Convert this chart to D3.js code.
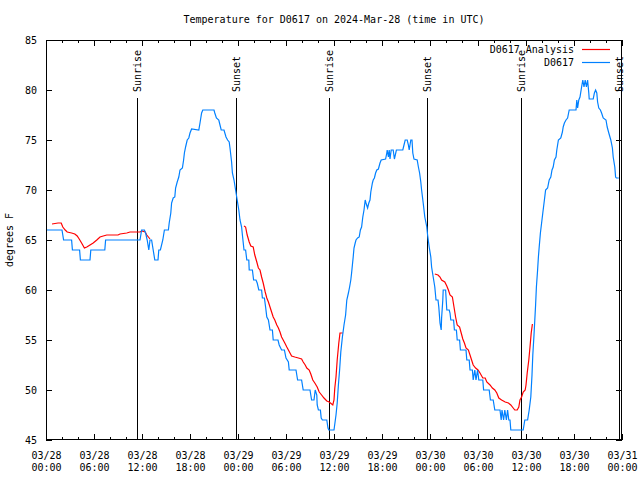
<!DOCTYPE html>
<html><head><meta charset="utf-8">
<script src="https://cdn.jsdelivr.net/npm/d3@7"></script>
<style>body{margin:0;background:#fff}svg{display:block}</style>
</head><body><svg id="c" width="640" height="480"></svg>
<script>
// ---------------- data ----------------
const chartTitle = "Temperature for D0617 on 2024-Mar-28 (time in UTC)";
const yAxisLabel = "degrees F";
const seriesNames = ["D0617 Analysis", "D0617"];
const seriesColors = ["#ff0000", "#0080ff"];
const startDate = "2024-03-28T00:00:00Z";
const yTickValues = [45, 50, 55, 60, 65, 70, 75, 80, 85];

// observations: hours after start, temperature (F)
const obsHours = [0,2.0,2.2,3.2,3.3,4.2,4.3,5.5,5.6,7.35,7.45,11.75,11.95,12.3,12.45,12.65,12.85,13.0,13.2,13.4,13.6,14.0,14.1,14.3,14.6,14.8,15.3,15.4,15.6,15.7,15.9,16.1,16.2,16.4,16.6,16.75,17.05,17.2,17.3,17.45,17.65,17.85,18.0,18.2,19.1,19.25,19.45,19.6,21.0,21.1,21.3,21.6,21.75,21.9,22.25,22.5,22.7,22.9,23.0,23.2,23.3,23.5,23.7,23.9,24.1,24.25,24.45,24.55,24.75,24.95,25.1,25.35,25.4,25.8,25.95,26.25,26.4,26.6,26.95,27.05,27.3,27.45,27.6,27.8,28.0,28.3,28.4,29.0,29.15,29.45,29.8,30.0,30.3,30.4,31.25,31.45,31.95,32.15,33.0,33.2,33.5,33.65,33.85,33.9,34.05,34.3,34.4,34.55,35.1,35.25,35.35,36.0,36.25,36.4,36.55,36.7,36.85,37.05,37.25,37.45,37.6,37.8,37.95,38.1,38.2,38.3,38.4,38.5,38.65,38.75,38.95,39.15,39.3,39.45,39.6,39.75,39.9,40.0,40.2,40.35,40.5,40.6,40.8,40.9,41.05,41.2,41.35,41.55,41.75,41.9,42.45,42.6,42.65,42.8,42.9,43.0,43.15,43.4,43.55,43.8,44.6,44.75,44.9,45.15,45.3,45.4,45.6,45.75,45.85,46.0,46.4,46.55,46.7,46.85,46.95,47.15,47.35,47.6,47.7,47.9,48.1,48.2,48.4,48.6,48.75,49.0,49.1,49.25,49.4,49.45,49.6,49.65,49.95,50.1,50.4,50.5,50.6,50.95,51.05,51.3,51.4,51.7,51.8,52.5,52.6,52.9,53.0,53.3,53.4,53.6,53.75,53.95,54.1,54.6,54.7,55.4,55.55,55.9,56.1,56.75,56.9,57.0,57.2,57.35,57.55,57.7,57.85,58.0,58.1,59.65,59.85,60.2,60.4,60.6,60.75,60.85,61.0,61.1,61.2,61.3,61.45,61.55,61.65,61.8,61.95,62.1,62.3,62.45,62.7,62.9,63.1,63.25,63.4,63.55,63.75,63.85,64.05,64.35,64.55,64.65,64.8,65.0,65.2,65.4,66.25,66.35,66.45,66.6,66.75,66.95,67.1,67.25,67.4,67.55,67.7,67.85,67.9,68.4,68.55,68.7,68.85,68.95,69.1,69.3,69.45,69.65,70.0,70.15,70.35,70.6,70.8,70.9,71.1,71.2,71.3,71.6];
const obsTemp = [66,66,65,65,64,64,63,63,64,64,65,65,66,66,65.7,65,64,65,65,64,63,63,64,64,65,66,66,66.7,67.7,68.7,69.2,69.3,70.2,70.8,71.3,72,72.2,73,73.7,74.3,75,75.2,75.7,76.1,76,76.7,77.7,78,78,77.7,77.2,77,76.5,76,76,75.3,75,74.8,74.2,72.8,71.7,71,70,69,68,67,66.3,65.5,64,64,63,63,62,62,61,61,60.7,60,60,59.2,59.2,58.3,57.3,57,56,56,55,55,54.5,54,54,53.2,52.8,52,52,51,51,50,50,49,49,50,49.5,48.5,48,48,47.2,47,47,46.2,46,46,47.5,48.7,50.5,52,53.8,55.3,56.5,57.5,59,59.7,60.3,61,61.7,62.5,63.3,64.2,64.7,65,65.2,65.3,66,66.3,67.3,68,69,68.7,68.2,68.7,69,69.8,70.7,71,71.2,71.7,72,72.1,72.7,73,73.1,73.7,74,73.3,74,73.1,74,74,73.1,74,74,74.5,75,75,74.5,74,75,75,73.7,73.1,73,72.3,71.7,70.8,70,68.7,67.3,66.3,65.5,64.3,63.3,62.3,61.3,60.3,59,59,58.3,56.7,56,57.2,59,60,60,58,58,57.7,57,57,56,56,55,55,54,54,53,53,52,52,51,52,51,52,51,51,50,50,49,49,48,48,47,48,47,48,47,48,47,47,46,46,47,47,48,49.3,51.5,53.5,55.5,57,58.5,60.3,62,63.3,64.3,65.7,66.7,67.7,69,70,70.2,71,71.3,72,72.3,73,73.3,74,75,75.2,75.8,76.3,76.7,77,77.2,78,78,79,78.2,79,79.3,80.3,81,80.3,81,80.3,81,79.7,79.1,79.1,79.7,80,79.7,78.8,78.2,78,77.7,77.2,77,76.3,75.7,75,74.2,73.3,72.3,71.3,71.2,71.2];

// analysis: hours after start, temperature (F); null = no analysis
const anaHours = [0.75,1.5,1.9,2.1,2.4,2.65,3.2,3.6,3.9,4.15,4.45,4.8,5.1,5.5,5.9,6.35,6.75,7.15,7.6,9.0,9.25,10.1,10.5,11.75,12.0,12.4,12.6,12.8,13.0,18,24.75,24.95,25.15,25.4,25.6,25.9,26.1,26.35,26.55,26.75,26.95,27.15,27.4,27.6,27.8,28.0,28.2,28.4,28.6,28.85,29.05,29.25,29.45,29.65,29.85,30.1,30.3,30.5,30.7,31.1,31.55,31.95,32.15,32.4,32.6,32.9,33.1,33.35,33.6,33.9,34.15,34.45,34.75,35.1,35.4,35.85,36.0,36.1,36.25,36.4,36.6,36.75,37.1,42,48.6,49.0,49.25,49.45,49.85,50.1,50.3,50.5,50.8,51.0,51.2,51.4,51.7,51.9,52.1,52.3,52.5,52.8,53.0,53.2,53.4,53.7,54.0,54.25,54.6,54.9,55.1,55.5,55.8,56.1,56.35,56.6,56.95,57.4,57.8,58.1,58.4,58.6,58.9,59.1,59.25,59.45,59.65,59.9,60.0,60.15,60.35,60.5,60.65,60.8];
const anaTemp = [66.6,66.7,66.7,66.3,66,65.8,65.7,65.6,65.4,65.1,64.7,64.2,64.3,64.5,64.7,65,65.3,65.4,65.5,65.5,65.6,65.7,65.8,65.8,65.9,65.8,65.5,65.3,65.1,null,66.4,66.3,65.5,64.8,64.4,64.3,63.5,62.8,62.2,62,61.3,60.7,59.8,59.2,58.8,58.3,57.8,57.3,57,56.5,56.2,55.8,55.3,55,54.7,54.3,54,53.7,53.4,53.3,53.2,53.1,52.8,52.5,52.2,52,51.6,51,50.7,50.3,49.8,49.5,49.2,48.9,48.8,48.5,49,50.2,51.3,53,54.7,55.7,55.7,null,61.6,61.5,61.3,61,60.8,60.4,60,59.5,59.3,58.3,57.3,56.5,56.3,55.7,55.1,54.7,54.2,54,53.5,53,52.5,52.2,52,51.7,51.2,51.2,50.8,50.5,50.2,50,49.7,49.2,49,48.8,48.7,48.5,48.2,48,48,48.3,49,49.3,49.8,50,50.5,51.7,53,54.3,55.7,56.6];

const sunLabels = ["Sunrise", "Sunset", "Sunrise", "Sunset", "Sunrise", "Sunset"];
const sunTimes = ["2024-03-28T11:25Z", "2024-03-28T23:43Z", "2024-03-29T11:25Z", "2024-03-29T23:41Z", "2024-03-30T11:20Z", "2024-03-30T23:37Z"];

// ---------------- drawing ----------------
const FONT = "'DejaVu Sans Mono', 'Liberation Mono', monospace";
const svg = d3.select("#c");
const t0 = new Date(startDate);
const hToDate = h => new Date(t0.getTime() + h * 3600e3);
const L = 46, R = 622, T = 40, B = 440;

const x = d3.scaleUtc().domain([t0, hToDate(72)]).range([L, R]);
const y = d3.scaleLinear().domain([45, 85]).range([B, T]);

svg.append("rect").attr("width", 640).attr("height", 480).attr("fill", "#fff");

// title
svg.append("text").attr("x", (L + R) / 2).attr("y", 23).attr("text-anchor", "middle")
  .attr("font-family", FONT).attr("font-size", 10).text(chartTitle);

// y label
svg.append("text").attr("transform", `translate(13,${(T + B) / 2}) rotate(-90)`)
  .attr("text-anchor", "middle").attr("font-family", FONT).attr("font-size", 10).text(yAxisLabel);

function styleAxis(g) {
  g.attr("font-family", FONT).attr("font-size", 10);
  g.select(".domain").remove();
  g.selectAll("line").attr("stroke", "#000").attr("shape-rendering", "crispEdges");
  g.selectAll("text").attr("fill", "#000");
}

// minor x ticks (2h), bottom & top
svg.append("g").attr("transform", `translate(0,${B})`)
  .call(d3.axisBottom(x).ticks(d3.utcHour.every(2)).tickSize(-3).tickFormat(""))
  .call(styleAxis);
svg.append("g").attr("transform", `translate(0,${T})`)
  .call(d3.axisTop(x).ticks(d3.utcHour.every(2)).tickSize(-3).tickFormat(""))
  .call(styleAxis);

// major x ticks (6h)
const fmtDay = d3.utcFormat("%m/%d"), fmtHour = d3.utcFormat("%H:%M");
const xb = svg.append("g").attr("transform", `translate(0,${B})`)
  .call(d3.axisBottom(x).ticks(d3.utcHour.every(6)).tickSize(-6).tickPadding(0))
  .call(styleAxis);
xb.selectAll(".tick text").each(function(d) {
  const t = d3.select(this).text(null).attr("dy", null).attr("y", null);
  t.append("tspan").attr("x", 0).attr("y", 18.5).text(fmtDay(d));
  t.append("tspan").attr("x", 0).attr("y", 31).text(fmtHour(d));
});
svg.append("g").attr("transform", `translate(0,${T})`)
  .call(d3.axisTop(x).ticks(d3.utcHour.every(6)).tickSize(-6).tickFormat(""))
  .call(styleAxis);

// y ticks
svg.append("g").attr("transform", `translate(${L},0)`)
  .call(d3.axisLeft(y).tickValues(yTickValues).tickSize(-6).tickPadding(9))
  .call(styleAxis);
svg.append("g").attr("transform", `translate(${R},0)`)
  .call(d3.axisRight(y).tickValues(yTickValues).tickSize(-6).tickFormat(""))
  .call(styleAxis);

// sunrise / sunset markers
sunTimes.forEach((s, i) => {
  const sx = Math.round(x(new Date(s))) + 0.5;
  svg.append("line").attr("x1", sx).attr("x2", sx).attr("y1", 98).attr("y2", B)
    .attr("stroke", "#000").attr("shape-rendering", "crispEdges");
  svg.append("text").attr("transform", `translate(${sx + 3.5},92) rotate(-90)`)
    .attr("font-family", FONT).attr("font-size", 10).text(sunLabels[i]);
});

// data lines
const anaData = anaHours.map((h, i) => ({ d: hToDate(h), v: anaTemp[i] }));
const obsData = obsHours.map((h, i) => ({ d: hToDate(h), v: obsTemp[i] }));
const line = d3.line().defined(p => p.v != null).x(p => x(p.d)).y(p => y(p.v));

svg.append("path").datum(anaData).attr("d", line).attr("fill", "none")
  .attr("stroke", seriesColors[0]).attr("stroke-width", 1.2);
svg.append("path").datum(obsData).attr("d", line).attr("fill", "none")
  .attr("stroke", seriesColors[1]).attr("stroke-width", 1.2);

// frame
svg.append("rect").attr("x", L + 0.5).attr("y", T + 0.5).attr("width", R - L - 1).attr("height", B - T - 1)
  .attr("fill", "none").attr("stroke", "#000").attr("shape-rendering", "crispEdges");

// legend
seriesNames.forEach((n, i) => {
  const ly = 49 + i * 13;
  svg.append("text").attr("x", 574).attr("y", ly + 3.5).attr("text-anchor", "end")
    .attr("font-family", FONT).attr("font-size", 10).text(n);
  svg.append("line").attr("x1", 582).attr("x2", 610).attr("y1", ly + 0.5).attr("y2", ly + 0.5)
    .attr("stroke", seriesColors[i]).attr("stroke-width", 1.2);
});
</script>
</body></html>
